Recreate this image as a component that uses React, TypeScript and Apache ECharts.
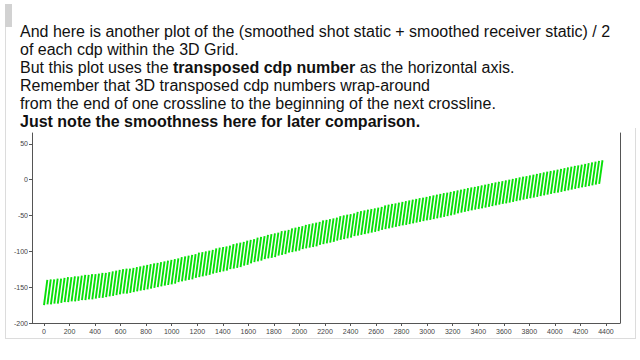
import React, { useEffect, useRef } from "react";
import * as echarts from "echarts";

// Slide text lines (rich-text markup: {b|...} is bold)
const textLines = [
  "And here is another plot of the (smoothed shot static + smoothed receiver static) / 2",
  "of each cdp within the 3D Grid.",
  "But this plot uses the {b|transposed cdp number} as the horizontal axis.",
  "Remember that 3D transposed cdp numbers wrap-around",
  "from the end of one crossline to the beginning of the next crossline.",
  "{b|Just note the smoothness here for later comparison.}",
];

// Number of transposed cdps in one crossline (wrap-around period)
const crosslineLength = 27;

// Static value at the last cdp of each crossline (top of each stripe)
const stripeHigh = [
  -140, -139, -139, -138, -138, -137, -136, -136, -135, -135,
  -134, -133, -133, -132, -132, -131, -130, -130, -129, -128,
  -127, -126, -125, -124, -124, -123, -122, -121, -120, -119,
  -118, -117, -116, -115, -114, -113, -112, -111, -110, -108,
  -107, -106, -105, -104, -102, -101, -100, -99, -98, -96,
  -95, -94, -93, -92, -90, -89, -88, -87, -85, -84,
  -83, -81, -80, -79, -77, -76, -75, -74, -72, -71,
  -70, -68, -67, -66, -65, -63, -62, -61, -60, -59,
  -57, -56, -55, -54, -53, -51, -50, -49, -48, -47,
  -45, -44, -43, -42, -41, -40, -39, -38, -36, -35,
  -34, -33, -32, -31, -30, -29, -28, -27, -26, -25,
  -24, -23, -22, -21, -20, -19, -18, -17, -16, -15,
  -14, -13, -12, -11, -10, -9, -8, -7, -6, -5,
  -4, -3, -2, -1, 0, 1, 2, 3, 4, 5,
  6, 7, 8, 9, 10, 11, 12, 13, 14, 15,
  16, 17, 18, 19, 20, 21, 22, 23, 24, 25,
  26, 27,
];

// Static value at the first cdp of each crossline (bottom of each stripe)
const stripeLow = [
  -175, -174, -174, -173, -173, -172, -171, -171, -170, -170,
  -169, -168, -168, -167, -167, -166, -165, -165, -164, -163,
  -162, -161, -160, -159, -159, -158, -157, -156, -155, -154,
  -153, -152, -151, -150, -149, -148, -147, -146, -145, -143,
  -142, -141, -140, -139, -137, -136, -135, -134, -133, -131,
  -130, -129, -128, -127, -125, -124, -123, -122, -120, -119,
  -117, -115, -114, -113, -111, -110, -109, -108, -106, -105,
  -104, -102, -101, -100, -99, -97, -96, -95, -94, -93,
  -91, -90, -89, -88, -87, -85, -84, -83, -82, -81,
  -79, -78, -77, -76, -75, -74, -73, -72, -70, -69,
  -68, -67, -66, -65, -64, -63, -62, -61, -60, -59,
  -58, -57, -56, -55, -54, -53, -52, -51, -50, -49,
  -47, -46, -45, -44, -43, -42, -41, -40, -39, -38,
  -37, -36, -35, -34, -33, -32, -31, -30, -29, -28,
  -27, -26, -25, -24, -23, -22, -21, -20, -19, -18,
  -17, -16, -15, -14, -13, -12, -11, -10, -9, -8,
  -7, -6,
];

const xTickValues = [
  0, 200, 400, 600, 800, 1000, 1200, 1400, 1600, 1800, 2000, 2200,
  2400, 2600, 2800, 3000, 3200, 3400, 3600, 3800, 4000, 4200, 4400,
];
const yTickValues = [-200, -150, -100, -50, 0, 50];

const FONT = '"Liberation Sans", Arial, sans-serif';

export default function App() {
  const ref = useRef<HTMLDivElement>(null);

  useEffect(() => {
    if (!ref.current) return;
    const chart = echarts.init(ref.current, null, { renderer: "svg" });

    const stripes = stripeHigh.map((hi, i) => ({
      coords: [
        [i * crosslineLength, stripeLow[i]],
        [i * crosslineLength + crosslineLength - 1, hi],
      ],
    }));

    const axisColor = "#555";
    const labelStyle = { fontSize: 7, color: "#444", fontFamily: FONT };

    const textGraphics = textLines.map((t, i) => ({
      type: "text",
      left: 20,
      top: 23 + i * 18,
      style: {
        text: t,
        fontSize: 16,
        fontFamily: FONT,
        fill: "#111",
        rich: {
          b: { fontSize: 16, fontFamily: FONT, fontWeight: "bold", fill: "#111" },
        },
      },
    }));

    chart.setOption({
      animation: false,
      backgroundColor: "#ffffff",
      grid: { left: 32, right: 20, top: 133, bottom: 37, show: false },
      xAxis: {
        type: "value",
        min: -94,
        max: 4510,
        axisLine: { onZero: false, lineStyle: { color: axisColor, width: 1 } },
        axisTick: { show: true, length: 3, customValues: xTickValues, lineStyle: { color: axisColor } },
        axisLabel: {
          ...labelStyle,
          margin: 5,
          customValues: xTickValues,
          formatter: (v: number) => String(v),
        },
        splitLine: { show: false },
      },
      yAxis: [
        {
          type: "value",
          min: -200,
          max: 65,
          axisLine: { show: true, onZero: false, lineStyle: { color: axisColor, width: 1 } },
          axisTick: { show: true, length: 3, customValues: yTickValues, lineStyle: { color: axisColor } },
          axisLabel: {
            ...labelStyle,
            margin: 4,
            customValues: yTickValues,
            formatter: (v: number) => String(v),
          },
          splitLine: { show: false },
        },
        {
          type: "value",
          position: "right",
          min: -200,
          max: 65,
          axisLine: { show: true, onZero: false, lineStyle: { color: axisColor, width: 1 } },
          axisTick: { show: false },
          axisLabel: { show: false },
          splitLine: { show: false },
        },
      ],
      series: [
        {
          type: "lines",
          coordinateSystem: "cartesian2d",
          xAxisIndex: 0,
          yAxisIndex: 0,
          silent: true,
          lineStyle: { color: "#08e008", width: 1.9, opacity: 1 },
          data: stripes,
        },
      ],
      graphic: [
        { type: "rect", shape: { x: 5, y: 4, width: 7, height: 23 }, style: { fill: "#d2d2d2" } },
        { type: "line", shape: { x1: 5.5, y1: 27, x2: 5.5, y2: 338.5 }, style: { stroke: "#dcdcdc", lineWidth: 1 } },
        { type: "line", shape: { x1: 5, y1: 338.5, x2: 636, y2: 338.5 }, style: { stroke: "#dcdcdc", lineWidth: 1 } },
        { type: "line", shape: { x1: 635.5, y1: 128, x2: 635.5, y2: 338.5 }, style: { stroke: "#dcdcdc", lineWidth: 1 } },
        ...textGraphics,
      ],
    });

    return () => chart.dispose();
  }, []);

  return (
    <div
      ref={ref}
      style={{ position: "fixed", left: 0, top: 0, width: 640, height: 360, background: "#fff" }}
    />
  );
}
